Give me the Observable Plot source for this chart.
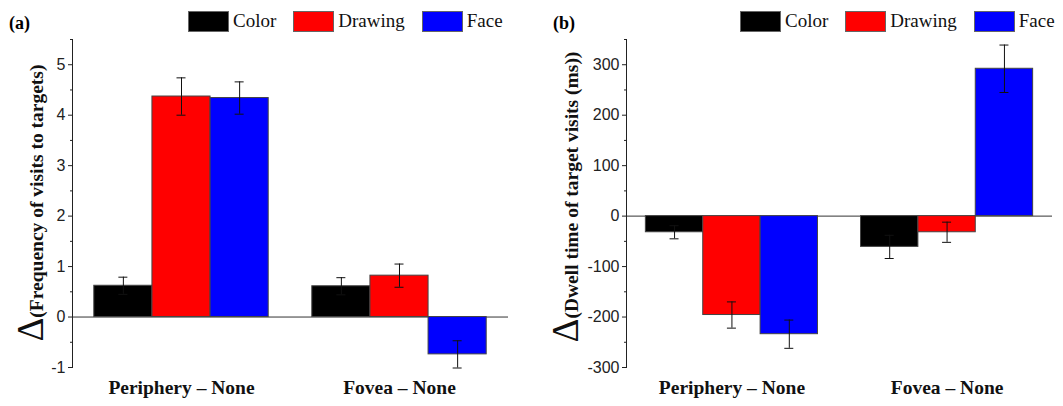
<!DOCTYPE html>
<html><head><meta charset="utf-8">
<script src="https://cdn.jsdelivr.net/npm/d3@7"></script>
<script src="https://cdn.jsdelivr.net/npm/@observablehq/plot@0.6"></script>
<style>
body{margin:0;background:#fff;}
#wrap{position:relative;width:1063px;height:406px;overflow:hidden;font-family:"Liberation Serif",serif;}
.panel{position:absolute;top:0;}
.legend{position:absolute;top:10px;display:flex;align-items:center;font:19px "Liberation Serif",serif;color:#111;}
.item{display:flex;align-items:center;margin-right:17px;}
.sw{width:39px;height:19px;border:1px solid #666;margin-right:4px;}
.plabel{position:absolute;top:13px;font:bold 18px "Liberation Serif",serif;}
.ylab{position:absolute;transform:translate(-50%,-50%) rotate(-90deg);white-space:nowrap;font:bold 19.5px "Liberation Serif",serif;color:#111;}
.ylab .delta{font-size:37px;font-weight:normal;}
</style></head>
<body><div id="wrap"></div>
<script>
const groups = ["Periphery – None", "Fovea – None"];
const series = ["Color", "Drawing", "Face"];
const colors = ["#000000", "#ff0000", "#0000ff"];

// Panel (a): Δ frequency of visits to targets
const freqColor = [0.62, 0.61];
const freqDrawing = [4.37, 0.82];
const freqFace = [4.34, -0.74];
const freqColorErr = [0.17, 0.17];
const freqDrawingErr = [0.37, 0.23];
const freqFaceErr = [0.32, 0.27];
const freqMajorTicks = [-1, 0, 1, 2, 3, 4, 5];
const freqMinorTicks = [-0.5, 0.5, 1.5, 2.5, 3.5, 4.5, 5.5];

// Panel (b): Δ dwell time of target visits (ms)
const dwellColor = [-32, -61];
const dwellDrawing = [-196, -32];
const dwellFace = [-234, 292];
const dwellColorErr = [13, 23];
const dwellDrawingErr = [26, 20];
const dwellFaceErr = [28, 47];
const dwellMajorTicks = [-300, -200, -100, 0, 100, 200, 300];
const dwellMinorTicks = [-250, -150, -50, 50, 150, 250, 350];

function rows(means, errs) {
  const out = [];
  series.forEach((s, i) => groups.forEach((g, j) => out.push({group: g, series: s, value: means[i][j], err: errs[i][j]})));
  return out;
}

function panel({data, width, marginLeft, marginRight, po, yDomain, major, minor}) {
  const height = 406, marginTop = 39, marginBottom = 39, pi = 0.2;
  const xs = d3.scaleBand().domain(groups).range([marginLeft, width - marginRight]).paddingInner(pi).paddingOuter(po);
  const bw = xs.bandwidth(), barW = bw / 3, cap = 4.5;
  const marks = [Plot.ruleY([0], {stroke: "#333", strokeWidth: 1})];
  series.forEach((s, i) => {
    const r = data.filter(d => d.series === s);
    marks.push(Plot.barY(r, {x: "group", y: "value", fill: colors[i], stroke: "#444", strokeWidth: 1,
      insetLeft: i * barW, insetRight: (2 - i) * barW}));
  });
  series.forEach((s, i) => {
    const r = data.filter(d => d.series === s);
    const dx = (i - 1) * barW;
    marks.push(Plot.ruleX(r, {x: "group", y1: d => d.value - d.err, y2: d => d.value + d.err, dx, stroke: "#111", strokeWidth: 1}));
    marks.push(Plot.tickY(r, {x: "group", y: d => d.value + d.err, dx, insetLeft: bw / 2 - cap, insetRight: bw / 2 - cap, stroke: "#111", strokeWidth: 1}));
    marks.push(Plot.tickY(r, {x: "group", y: d => d.value - d.err, dx, insetLeft: bw / 2 - cap, insetRight: bw / 2 - cap, stroke: "#111", strokeWidth: 1}));
  });
  marks.push(Plot.frame({anchor: "left", stroke: "#222"}));
  marks.push(Plot.axisY({ticks: major, tickSize: 4, tickPadding: 3, tickFormat: d => String(d), fontSize: 16, fontFamily: "Liberation Sans", fill: "#222", stroke: "#222", label: null}));
  marks.push(Plot.axisY({ticks: minor, tickSize: 2, tickFormat: () => "", stroke: "#222", label: null}));
  marks.push(Plot.axisX({tickSize: 0, tickPadding: 13, fontSize: 19.5, fontWeight: "bold", fontFamily: "Liberation Serif", fill: "#111", label: null}));
  return Plot.plot({
    width, height, marginLeft, marginRight, marginTop, marginBottom,
    style: {background: "transparent", fontFamily: "Liberation Sans", fontSize: "15px", overflow: "visible"},
    x: {domain: groups, paddingInner: pi, paddingOuter: po, round: false},
    y: {domain: yDomain},
    marks
  });
}

const wrap = document.getElementById("wrap");
function addPanel(left, svg) {
  const d = document.createElement("div");
  d.className = "panel"; d.style.left = left + "px";
  d.appendChild(svg); wrap.appendChild(d);
}
function addLegend(left) {
  const lg = document.createElement("div");
  lg.className = "legend"; lg.style.left = left + "px";
  series.forEach((s, i) => {
    const it = document.createElement("div"); it.className = "item";
    const sw = document.createElement("div"); sw.className = "sw"; sw.style.background = colors[i];
    const t = document.createElement("span"); t.textContent = s;
    it.appendChild(sw); it.appendChild(t); lg.appendChild(it);
  });
  wrap.appendChild(lg);
}
function addText(cls, left, top, html) {
  const e = document.createElement("div"); e.className = cls;
  e.style.left = left + "px"; e.style.top = top + "px"; e.innerHTML = html;
  wrap.appendChild(e);
}

addPanel(0, panel({data: rows([freqColor, freqDrawing, freqFace], [freqColorErr, freqDrawingErr, freqFaceErr]),
  width: 531, marginLeft: 72, marginRight: 23, po: 0.1, yDomain: [-1, 5.5], major: freqMajorTicks, minor: freqMinorTicks}));
addPanel(531, panel({data: rows([dwellColor, dwellDrawing, dwellFace], [dwellColorErr, dwellDrawingErr, dwellFaceErr]),
  width: 532, marginLeft: 95, marginRight: 11, po: 0.09, yDomain: [-300, 350], major: dwellMajorTicks, minor: dwellMinorTicks}));
addLegend(188);
addLegend(740);
addText("plabel", 9, 13, "(a)");
addText("plabel", 553, 13, "(b)");
addText("ylab", 30, 203, '<span class="delta">Δ</span>(Frequency of visits to targets)');
addText("ylab", 565, 197, '<span class="delta">Δ</span>(Dwell time of target visits (ms))');
</script>
</body></html>
